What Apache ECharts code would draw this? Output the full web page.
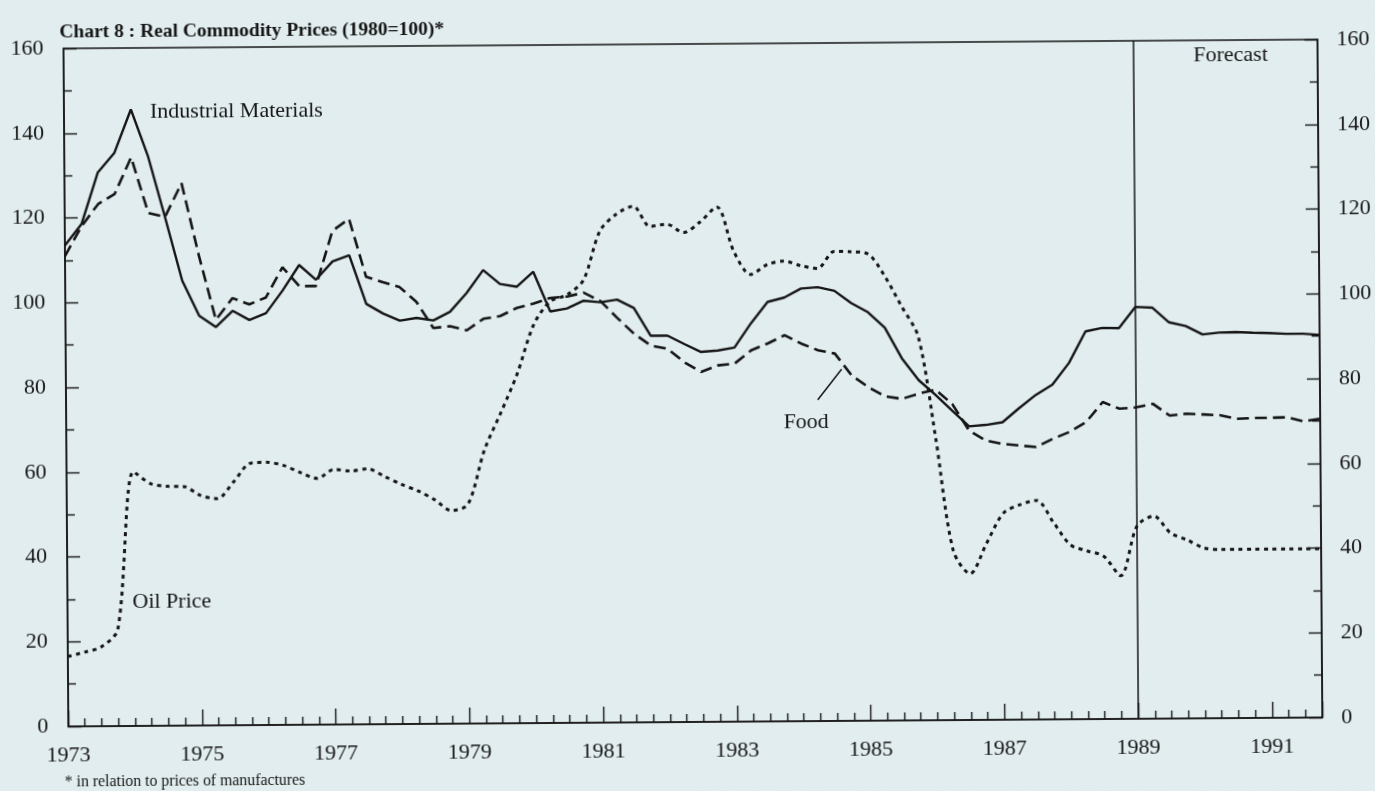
<!DOCTYPE html>
<html>
<head>
<meta charset="utf-8">
<script src="https://cdn.jsdelivr.net/npm/echarts@6/dist/echarts.min.js"></script>
<style>
html, body { margin: 0; padding: 0; background: #e2edef; overflow: hidden; }
/* the scanned original is tilted a little, so the whole chart is too */
#chart { width: 1375px; height: 791px; transform: rotate(-0.41deg); transform-origin: 50% 50%; }
</style>
</head>
<body>
<div id="chart"></div>
<script>
// quarterly values, 1973 Q1 .. 1991 Q4 (1980 = 100)
const firstYear = 1973;
const forecastYear = 1989;
const yearLabels = [1973, 1975, 1977, 1979, 1981, 1983, 1985, 1987, 1989, 1991];

const industrial = [
  113.5, 118.5, 130.7, 135.3, 145.5, 134.5, 120, 105,
  96.7, 94, 97.8, 95.6, 97.2, 102.5, 108.5, 105,
  109.3, 110.7, 99.2, 96.9, 95.2, 95.8, 95.2, 97.2,
  101.6, 107, 103.7, 103, 106.5, 97.1, 97.8, 99.6,
  99.2, 99.8, 97.8, 91.2, 91.2, 89.2, 87.3, 87.6,
  88.3, 94, 99, 100, 102.1, 102.4, 101.5, 98.6,
  96.4, 92.7, 85.5, 80.3, 76.8, 73, 69.3, 69.6,
  70.2, 73.5, 76.6, 79, 84.1, 91.5, 92.3, 92.2,
  97.2, 97, 93.5, 92.6, 90.6, 91, 91.1, 90.9,
  90.8, 90.6, 90.6, 90.3
];

const food = [
  111, 118, 123.2, 125.6, 134.2, 121, 120.1, 128,
  111, 95.7, 100.8, 99.3, 100.9, 108, 103.5, 103.5,
  116.5, 119.3, 105.6, 104.3, 103.1, 99.6, 93.4, 93.8,
  92.8, 95.5, 96.1, 98, 99, 100.3, 100.6, 101.5,
  99.5, 95.5, 91.7, 88.9, 88.1, 84.9, 82.6, 84.1,
  84.5, 87.6, 89.2, 91.1, 89.1, 87.5, 86.7, 81.5,
  78.7, 76.5, 75.9, 77.1, 78, 74.6, 68.3, 65.9,
  65.1, 64.7, 64.3, 66.2, 67.8, 70.1, 74.8, 73.2,
  73.5, 74.3, 71.5, 71.9, 71.7, 71.5, 70.6, 70.8,
  70.8, 70.9, 69.9, 70.5
];

const oil = [
  16.5, 17.5, 18.7, 22.8, 60, 57.2, 56.5, 56.4,
  54.3, 53.5, 57.5, 61.8, 62, 61.2, 59.5, 58.1,
  60.2, 59.8, 60.3, 58.5, 56.6, 55, 52.9, 50.3,
  51.8, 64.5, 73.3, 82.5, 94, 99.5, 101, 104.5,
  116, 120, 121.8, 117, 117.5, 115.5, 118, 121.5,
  111, 105.5, 107.8, 108.6, 107.5, 106.8, 110.8, 110.7,
  110.2, 105, 97.8, 90.5, 66.5, 40, 34.5, 41.7,
  48.7, 50.7, 51.7, 46.5, 41.2, 39.7, 38.4, 33.8,
  45.5, 47.8, 43.8, 42.1, 40.2, 39.8, 39.8, 39.8,
  39.8, 39.8, 39.8, 39.8
];

// pointer from the "Food" label to its line, in data units
const foodPointer = [[1984.24, 75.8], [1984.6, 83]];

const ink = "#161616";
const serif = '"Liberation Serif", "Times New Roman", serif';

const toPairs = (vals) => vals.map((v, i) => [firstYear + i / 4, v]);

let myChart = echarts.init(document.getElementById("chart"));

const valueAxis = (position, margin) => {
  return {
    type: "value",
    position: position,
    min: 0,
    max: 160,
    interval: 20,
    axisLine: { show: true, lineStyle: { color: ink, width: 1.6 } },
    axisTick: { show: true, inside: true, length: 13, lineStyle: { color: ink, width: 1.4 } },
    minorTick: { show: true, splitNumber: 2, length: 8, lineStyle: { color: ink, width: 1.4 } },
    splitLine: { show: false },
    minorSplitLine: { show: false },
    axisLabel: { margin: margin, fontSize: 22, fontFamily: serif, color: ink },
  };
};

let option = {
  backgroundColor: "#e2edef",
  animation: false,
  grid: {
    left: 66,
    right: 55,
    top: 44,
    bottom: 69,
    show: true,
    borderColor: ink,
    borderWidth: 1.5,
  },
  xAxis: {
    type: "value",
    min: 1973,
    max: 1991.75,
    interval: 2,
    axisLine: { show: true, onZero: false, lineStyle: { color: ink, width: 1.6 } },
    axisTick: { show: true, inside: true, length: 16, lineStyle: { color: ink, width: 1.4 } },
    minorTick: { show: true, splitNumber: 8, length: 8, lineStyle: { color: ink, width: 1.4 } },
    splitLine: { show: false },
    minorSplitLine: { show: false },
    axisLabel: {
      margin: 18,
      fontSize: 22,
      fontFamily: serif,
      color: ink,
      showMaxLabel: false,
      formatter: (v) => (yearLabels.indexOf(v) >= 0 ? String(v) : ""),
    },
  },
  yAxis: [valueAxis("left", 20), valueAxis("right", 19)],
  series: [
    {
      name: "Industrial Materials",
      type: "line",
      showSymbol: false,
      data: toPairs(industrial),
      lineStyle: { color: ink, width: 2.4 },
      markLine: {
        silent: true,
        symbol: "none",
        label: { show: false },
        lineStyle: { color: ink, width: 1.5, type: "solid" },
        data: [{ xAxis: forecastYear }],
      },
    },
    {
      name: "Food",
      type: "line",
      showSymbol: false,
      data: toPairs(food),
      lineStyle: { color: ink, width: 2.6, type: [12, 6] },
      markLine: {
        silent: true,
        symbol: "none",
        label: { show: false },
        lineStyle: { color: ink, width: 1.5, type: "solid" },
        data: [[{ coord: foodPointer[0] }, { coord: foodPointer[1] }]],
      },
    },
    {
      name: "Oil Price",
      type: "line",
      showSymbol: false,
      smooth: 0.3,
      data: toPairs(oil),
      lineStyle: { color: ink, width: 3, type: [4, 4.5], cap: "butt" },
    },
  ],
  graphic: [
    {
      type: "text", x: 62, y: 28,
      style: { text: "Chart 8 : Real Commodity Prices (1980=100)*", font: "bold 19.5px " + serif, fill: ink, textVerticalAlign: "middle" },
    },
    {
      type: "text", x: 62, y: 778,
      style: { text: "* in relation to prices of manufactures", font: "15.8px " + serif, fill: ink, textVerticalAlign: "middle" },
    },
    {
      type: "text", x: 152, y: 108,
      style: { text: "Industrial Materials", font: "22px " + serif, fill: ink, textVerticalAlign: "middle" },
    },
    {
      type: "text", x: 1233, y: 59,
      style: { text: "Forecast", font: "22px " + serif, fill: ink, textAlign: "center", textVerticalAlign: "middle" },
    },
    {
      type: "text", x: 806, y: 423,
      style: { text: "Food", font: "22px " + serif, fill: ink, textAlign: "center", textVerticalAlign: "middle" },
    },
    {
      type: "text", x: 131, y: 598,
      style: { text: "Oil Price", font: "22px " + serif, fill: ink, textVerticalAlign: "middle" },
    },
  ],
};

option && myChart.setOption(option);
</script>
</body>
</html>
